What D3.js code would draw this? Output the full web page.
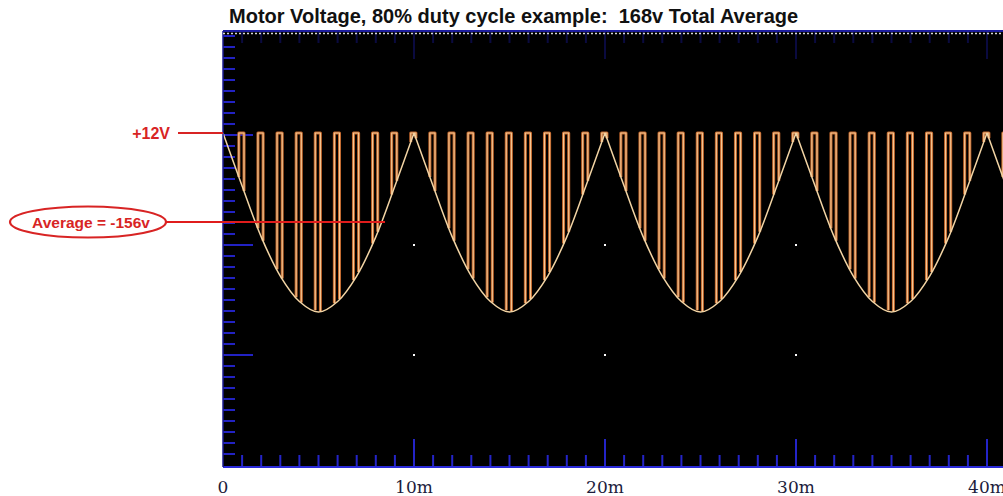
<!DOCTYPE html>
<meta charset="utf-8">
<style>
body { margin: 0; background: #fff; }
svg { display: block; font-family: "Liberation Sans", Arial, sans-serif; }
.env { fill: none; stroke: #f2d4a4; stroke-width: 1.5px; }
.pulseOuter { fill: none; stroke: #c0662c; stroke-width: 3px; stroke-linejoin: round; }
.pulseInner { fill: none; stroke: #f6c894; stroke-width: 1.1px; stroke-linejoin: round; }
.note { fill: #d82424; font-weight: bold; }
</style>
<body></body>
<script src="https://cdn.jsdelivr.net/npm/d3@7"></script>
<script>

// envelope (volts), one sample per ms from 0 to 42 ms
var envTimes = d3.range(0, 43);
var envVolts = [12, -88, -184, -258, -306, -326, -306, -258, -184, -88,
                12, -88, -184, -258, -306, -326, -306, -258, -184, -88,
                12, -88, -184, -258, -306, -326, -306, -258, -184, -88,
                12, -88, -184, -258, -306, -326, -306, -258, -184, -88,
                12, -88, -184];

// +12V pulses (start time in ms), each 0.27 ms wide
var pulseStarts = [0.83, 1.83, 2.83, 3.83, 4.83, 5.83, 6.83, 7.83, 8.83, 9.83,
                   10.83, 11.83, 12.83, 13.83, 14.83, 15.83, 16.83, 17.83, 18.83, 19.83,
                   20.83, 21.83, 22.83, 23.83, 24.83, 25.83, 26.83, 27.83, 28.83, 29.83,
                   30.83, 31.83, 32.83, 33.83, 34.83, 35.83, 36.83, 37.83, 38.83, 39.83,
                   40.83];
var pulseWidth = 0.27;
var pulseHigh = 12;

var xTicks = [0, 10, 20, 30, 40];
var xTickLabels = ["0", "10m", "20m", "30m", "40m"];
var gridDivs = [1, 2, 3];
var gridTimes = [10, 20, 30];
var avgVolts = -156;

var W = 1003, H = 496;
var plot = {left: 223, right: 1003, top: 31, bottom: 467};

var x = d3.scaleLinear().domain([0, 40]).range([223, 987]);
var y = d3.scaleLinear().domain([12, -156]).range([133, 222]);
// graticule divisions (screen divisions of the scope)
var yDiv = d3.scaleLinear().domain([0, 4]).range([465, 25]);

var svg = d3.select("body").append("svg")
    .attr("width", W).attr("height", H);

svg.append("defs").append("clipPath").attr("id", "clip")
  .append("rect")
    .attr("x", plot.left).attr("y", plot.top)
    .attr("width", plot.right - plot.left).attr("height", plot.bottom - plot.top);

// black screen
svg.append("rect")
    .attr("x", plot.left).attr("y", plot.top)
    .attr("width", plot.right - plot.left).attr("height", plot.bottom - plot.top)
    .attr("fill", "#000");

var g = svg.append("g").attr("clip-path", "url(#clip)");

// left graticule ticks
var leftTicks = d3.range(1, 40).map(function(i) { return i / 10; })
    .filter(function(d) { return yDiv(d) > plot.top + 2; });
g.selectAll(".lt").data(leftTicks).enter().append("line")
    .attr("x1", plot.left)
    .attr("x2", function(d) { return Math.abs(d - Math.round(d)) < 1e-6 ? plot.left + 30 : plot.left + 12; })
    .attr("y1", function(d) { return yDiv(d); })
    .attr("y2", function(d) { return yDiv(d); })
    .attr("stroke", "#2222c4").attr("stroke-width", 2);

// bottom and top time ticks
var msTicks = d3.range(1, 41);
g.selectAll(".bt").data(msTicks).enter().append("line")
    .attr("x1", function(d) { return x(d); })
    .attr("x2", function(d) { return x(d); })
    .attr("y1", plot.bottom)
    .attr("y2", function(d) { return d % 10 == 0 ? plot.bottom - 28 : plot.bottom - 12; })
    .attr("stroke", "#2424c8").attr("stroke-width", 2);
g.selectAll(".tt").data(msTicks).enter().append("line")
    .attr("x1", function(d) { return x(d); })
    .attr("x2", function(d) { return x(d); })
    .attr("y1", plot.top)
    .attr("y2", function(d) { return d % 10 == 0 ? plot.top + 28 : plot.top + 12; })
    .attr("stroke", "#1a1aa0").attr("stroke-width", 2).attr("opacity", 0.4);

// frame
svg.append("line").attr("x1", plot.left).attr("x2", plot.right)
    .attr("y1", plot.bottom).attr("y2", plot.bottom)
    .attr("stroke", "#2a2ad8").attr("stroke-width", 2);
svg.append("line").attr("x1", plot.left).attr("x2", plot.left)
    .attr("y1", plot.top).attr("y2", plot.bottom)
    .attr("stroke", "#1a1a90").attr("stroke-width", 1.5);
svg.append("line").attr("x1", plot.left).attr("x2", plot.right)
    .attr("y1", plot.top).attr("y2", plot.top)
    .attr("stroke", "#1c1c9c").attr("stroke-width", 2);
svg.append("line").attr("x1", plot.left).attr("x2", plot.right)
    .attr("y1", plot.top + 2.5).attr("y2", plot.top + 2.5)
    .attr("stroke", "#d8d8d8").attr("stroke-width", 1.4)
    .attr("stroke-dasharray", "2,2");

// grid dots
var dots = [];
gridDivs.forEach(function(dv) { gridTimes.forEach(function(t) { dots.push([t, dv]); }); });
g.selectAll(".dot").data(dots).enter().append("rect")
    .attr("x", function(d) { return x(d[0]) - 1; })
    .attr("y", function(d) { return yDiv(d[1]) - 1; })
    .attr("width", 2).attr("height", 2)
    .attr("fill", "#ffffff");

// pulses
function envAt(t) {
    var i = Math.min(Math.floor(t), envVolts.length - 2);
    var f = t - envTimes[i];
    return envVolts[i] + (envVolts[i + 1] - envVolts[i]) * f;
}
var pulseLine = d3.line()
    .x(function(d) { return x(d[0]); })
    .y(function(d) { return y(d[1]); });
var pulseData = pulseStarts.map(function(t0) {
    var t1 = t0 + pulseWidth;
    return [[t0, envAt(t0)], [t0, pulseHigh], [t1, pulseHigh], [t1, envAt(t1)]];
});
g.selectAll(".po").data(pulseData).enter().append("path")
    .attr("class", "pulseOuter").attr("d", pulseLine);
g.selectAll(".pi").data(pulseData).enter().append("path")
    .attr("class", "pulseInner").attr("d", pulseLine);

// envelope, one lobe per half cycle so the cusps stay sharp
var lobes = [];
var cur = [];
envVolts.forEach(function(v, i) {
    cur.push([envTimes[i], v]);
    if (v == d3.max(envVolts) && cur.length > 1) { lobes.push(cur); cur = [[envTimes[i], v]]; }
});
if (cur.length > 1) lobes.push(cur);
var envLine = d3.line()
    .x(function(d) { return x(d[0]); })
    .y(function(d) { return y(d[1]); })
    .curve(d3.curveCatmullRom);
g.selectAll(".env").data(lobes).enter().append("path")
    .attr("class", "env").attr("d", envLine);

// x labels
svg.selectAll(".xl").data(xTicks).enter().append("text")
    .attr("x", function(d) { return x(d); })
    .attr("y", 493)
    .attr("text-anchor", "middle")
    .style("font-family", "'DejaVu Serif', serif")
    .style("font-size", "17px")
    .attr("fill", "#1c1c3c")
    .text(function(d, i) { return xTickLabels[i]; });

// title
svg.append("text")
    .attr("x", 229).attr("y", 23)
    .style("font-size", "20px").style("font-weight", "bold")
    .style("white-space", "pre")
    .attr("fill", "#111")
    .text("Motor Voltage, 80% duty cycle example:  168v Total Average");

// +12V note
svg.append("text").attr("class", "note")
    .attr("x", 170).attr("y", 139)
    .attr("text-anchor", "end")
    .style("font-size", "16px")
    .text("+12V");
svg.append("line")
    .attr("x1", 178).attr("x2", plot.left)
    .attr("y1", y(pulseHigh)).attr("y2", y(pulseHigh))
    .attr("stroke", "#d82424").attr("stroke-width", 2);

// average note
svg.append("ellipse")
    .attr("cx", 88).attr("cy", y(avgVolts))
    .attr("rx", 78).attr("ry", 15.5)
    .attr("fill", "none").attr("stroke", "#d82424").attr("stroke-width", 2.2);
svg.append("text").attr("class", "note")
    .attr("x", 91).attr("y", y(avgVolts) + 5.5)
    .attr("text-anchor", "middle")
    .style("font-size", "15.5px")
    .text("Average = -156v");
svg.append("line")
    .attr("x1", 166).attr("x2", 385)
    .attr("y1", y(avgVolts)).attr("y2", y(avgVolts))
    .attr("stroke", "#e01c1c").attr("stroke-width", 2);

</script>
